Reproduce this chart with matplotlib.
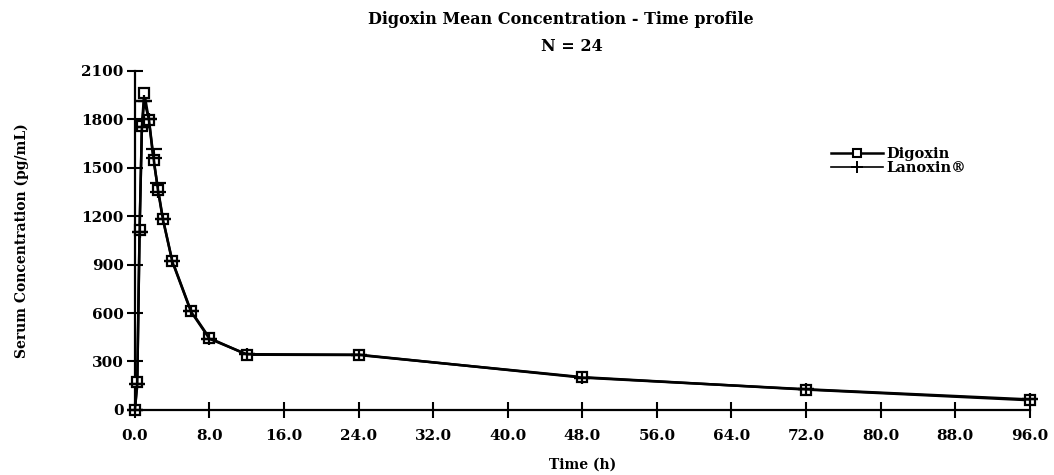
#!/usr/bin/env python3
"""
Digoxin mean serum concentration vs time, test vs reference (Lanoxin).
"""

import matplotlib
matplotlib.use('Agg')
import matplotlib.pyplot as plt
from matplotlib.lines import Line2D

# sampling times (h)
time_h = [0, 0.25, 0.5, 0.75, 1, 1.5, 2, 2.5, 3, 4, 6, 8, 12, 24, 48, 72, 96]

# mean serum concentration (pg/mL)
digoxin = [0, 170, 1115, 1760, 1965, 1795, 1545, 1360, 1185, 925, 615, 445, 342, 340, 203, 126, 60]
lanoxin = [0, 160, 1100, 1750, 1915, 1800, 1560, 1350, 1180, 920, 610, 440, 345, 342, 200, 128, 65]
lanoxin_err = [0, 0, 0, 0, 0, 0, 55, 55, 0, 0, 0, 0, 0, 0, 0, 0, 0]

x_ticks = [0, 8, 16, 24, 32, 40, 48, 56, 64, 72, 80, 88, 96]
y_ticks = [0, 300, 600, 900, 1200, 1500, 1800, 2100]

serif = 'DejaVu Serif'

fig = plt.figure(figsize=(10.54, 4.75), dpi=100)
ax = fig.add_axes([0.128, 0.137, 0.849, 0.714])

ax.plot(time_h, digoxin, color='black', lw=1.8, marker='s', ms=7,
        mfc='white', mec='black', mew=1.6, clip_on=False, zorder=3)
ax.errorbar(time_h, lanoxin, yerr=[[0] * len(lanoxin_err), lanoxin_err],
            color='black', lw=1.8, marker='+', ms=9, mew=1.6, capsize=6,
            elinewidth=1.4, clip_on=False, zorder=4)

ax.set_xlim(0, 96)
ax.set_ylim(0, 2100)
ax.set_xticks(x_ticks)
ax.set_xticklabels([f'{v:.1f}' for v in x_ticks])
ax.set_yticks(y_ticks)

for side in ['top', 'right']:
    ax.spines[side].set_visible(False)
for side in ['left', 'bottom']:
    ax.spines[side].set_linewidth(1.6)
ax.tick_params(direction='inout', length=12, width=1.5, labelsize=11)
ax.tick_params(axis='x', pad=8)
ax.tick_params(axis='y', pad=2)
for lbl in ax.get_xticklabels() + ax.get_yticklabels():
    lbl.set_fontfamily(serif)
    lbl.set_fontweight('bold')

ax.set_xlabel('Time (h)', fontsize=10, fontweight='bold', family=serif, labelpad=10)
ax.yaxis.set_label_coords(-0.118, 0.5)
ax.set_ylabel('Serum Concentration (pg/mL)', fontsize=10, fontweight='bold', family=serif)

fig.text(0.532, 0.958, 'Digoxin Mean Concentration - Time profile', ha='center', va='center',
         fontsize=11.5, fontweight='bold', family=serif)
fig.text(0.543, 0.903, 'N = 24', ha='center', va='center',
         fontsize=11.5, fontweight='bold', family=serif)

handles = [
    Line2D([], [], color='black', lw=1.8, marker='s', ms=6, mfc='white', mec='black', mew=1.5),
    Line2D([], [], color='black', lw=1.2, marker='+', ms=9, mew=1.4),
]
ax.legend(handles, ['Digoxin', 'Lanoxin®'], loc='upper left', bbox_to_anchor=(0.788, 0.69),
          bbox_transform=fig.transFigure, frameon=False, handlelength=3.6,
          handletextpad=0.25, labelspacing=0.0, borderaxespad=0, borderpad=0,
          prop={'family': serif, 'weight': 'bold', 'size': 10.5})

fig.savefig('out.png', dpi=100)
plt.close(fig)
